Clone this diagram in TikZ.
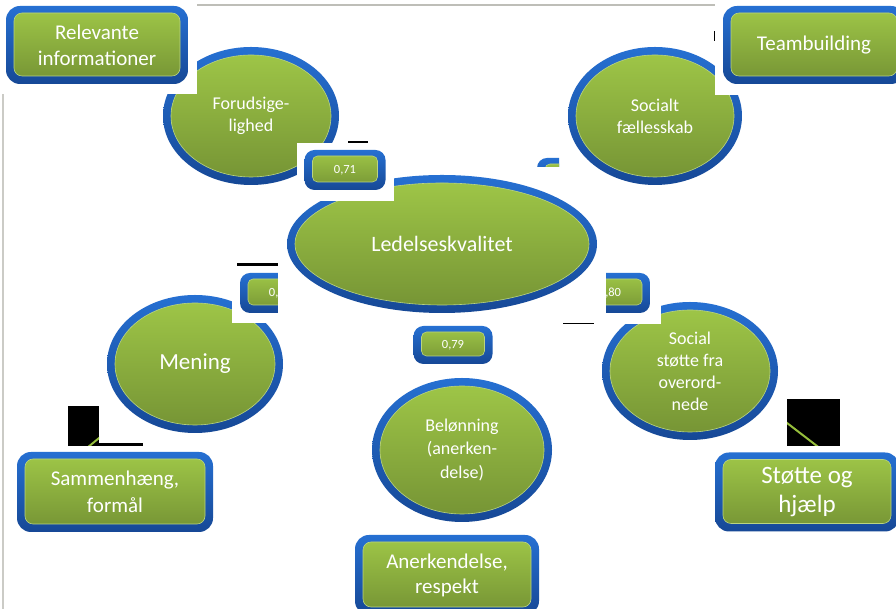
\documentclass[tikz,border=0pt]{standalone}
\usepackage{fontspec}
\setmainfont{Carlito}
\usetikzlibrary{shapes.geometric,calc}
\definecolor{blueT}{RGB}{38,112,210}
\definecolor{blueB}{RGB}{22,72,150}
\definecolor{greenT}{RGB}{160,200,72}
\definecolor{greenB}{RGB}{116,146,52}
\definecolor{greenE}{RGB}{186,212,128}
\definecolor{conn}{RGB}{150,190,60}
\definecolor{grayline}{RGB}{190,190,184}
\tikzset{
  ellnode/.style={ellipse, inner sep=0pt, text=white, align=center,
    top color=blueT, bottom color=blueB,
    path picture={\path[top color=greenT, bottom color=greenB, draw=greenE, line width=0.6pt]
      let \p1=(path picture bounding box.north east), \p2=(path picture bounding box.center) in
      (\p2) ellipse ({\x1-\x2-8pt} and {\y1-\y2-8pt});}},
  bigbox/.style={rectangle, rounded corners=14pt, inner sep=0pt, text=white, align=center,
    top color=blueT, bottom color=blueB,
    path picture={\path[top color=greenT, bottom color=greenB, draw=greenE, line width=0.6pt, rounded corners=8pt]
      ([shift={(8pt,8pt)}]path picture bounding box.south west) rectangle
      ([shift={(-8pt,-7pt)}]path picture bounding box.north east);}},
  smallbox/.style={rectangle, rounded corners=10pt, inner sep=0pt, text=white, align=center,
    top color=blueT, bottom color=blueB, minimum width=80pt, minimum height=40pt,
    font=\fontsize{12.5}{14}\selectfont,
    path picture={\path[top color=greenT, bottom color=greenB, draw=greenE, line width=0.6pt, rounded corners=5pt]
      ([shift={(8pt,8pt)}]path picture bounding box.south west) rectangle
      ([shift={(-8pt,-6pt)}]path picture bounding box.north east);}},
  whitepatch/.style={fill=white},
  gapline/.style={fill=black},
  connline/.style={draw=conn, line width=2pt}
}
\begin{document}
\begin{tikzpicture}[x=1pt,y=1pt]
\useasboundingbox (0,0) rectangle (896,609);
\clip (0,0) rectangle (896,609);
\fill[white] (0,0) rectangle (896,609);
% gray lines
\draw[grayline, line width=1.3pt] (197,604) -- (715,604);
\draw[grayline!80, line width=1.5pt] (3,515) -- (3,0);
% black patches with hidden connectors
\fill[black] (68,203) rectangle (99,163);
\fill[black] (99,163.3) rectangle (143,165.7);
\fill[black] (787,210) rectangle (840,163);
\coordinate (l1) at (82,157);
\coordinate (l2) at (131.4,197.4);
\coordinate (r1) at (765.5,202.5);
\coordinate (r2) at (824.8,157);
\begin{scope}
  \clip (68,203) rectangle (99,163);
  \draw[connline] (l1) -- (l2);
\end{scope}
\begin{scope}
  \clip (787,210) rectangle (840,163);
  \draw[connline] (r1) -- (r2);
\end{scope}
% top row
\node[ellnode, minimum width=176pt, minimum height=138pt, font=\fontsize{18}{22}\selectfont] (forud) at (251,493) {Forudsige-\\lighed};
\fill[whitepatch] (0,609) rectangle (197,515);
\node[bigbox, minimum width=182pt, minimum height=78pt, font=\fontsize{21}{26}\selectfont] (relev) at (97,564) {Relevante\\informationer};
\node[ellnode, minimum width=174pt, minimum height=138pt, font=\fontsize{18}{22}\selectfont] (social) at (655,493) {Socialt\\fællesskab};
\fill[whitepatch] (715,609) rectangle (896,514);
\node[bigbox, minimum width=182pt, minimum height=78pt, font=\fontsize{21}{26}\selectfont] (team) at (814,564) {Teambuilding};
\fill[gapline] (713.5,568) rectangle (714.5,578);
% hidden box fragment
\begin{scope}
  \clip (530,459) rectangle (559,442);
  \node[smallbox] (hid) at (577,431) {};
\end{scope}
% middle row
\node[ellnode, minimum width=176pt, minimum height=138pt, font=\fontsize{23}{26}\selectfont] (mening) at (195,245) {Mening};
\node[ellnode, minimum width=176pt, minimum height=138pt, font=\fontsize{18}{22}\selectfont] (stotte) at (690,238) {Social\\støtte fra\\overord-\\nede};
\fill[whitepatch] (232,346) rectangle (278,286);
\fill[whitepatch] (606,346) rectangle (661,285);
\node[smallbox] (bleft) at (280,316) {0,\phantom{75}};
\node[smallbox] (bright) at (610,316) {\phantom{0},80};
\fill[gapline] (237,342.8) rectangle (278,345.5);
\fill[whitepatch] (278,419) rectangle (606,285.5);
\fill[gapline] (563,284.5) rectangle (594,285.5);
\node[ellnode, minimum width=310pt, minimum height=138pt, font=\fontsize{22}{26}\selectfont] (ledel) at (442,365) {Ledelseskvalitet};
\fill[whitepatch] (297,466) rectangle (394,408);
\node[smallbox, minimum width=81pt] (b71) at (345,439) {0,71};
\fill[gapline] (348,466) rectangle (368,467.5);
\node[smallbox, minimum width=79pt, minimum height=38pt] (b79) at (453,264) {0,79};
% bottom row
\node[ellnode, minimum width=180pt, minimum height=144pt, font=\fontsize{18}{23.5}\selectfont] (belon) at (462,159) {Belønning\\(anerken-\\delse)};
\node[bigbox, minimum width=196pt, minimum height=80pt, font=\fontsize{21}{27}\selectfont] (samm) at (115,117) {Sammenhæng,\\formål};
\node[bigbox, minimum width=184pt, minimum height=80pt, font=\fontsize{21}{25}\selectfont] (aner) at (447,34) {Anerkendelse,\\respekt};
\node[bigbox, minimum width=184pt, minimum height=79pt, font=\fontsize{25}{29}\selectfont] (sbox) at (807,117) {Støtte og\\hjælp};
\end{tikzpicture}
\end{document}
